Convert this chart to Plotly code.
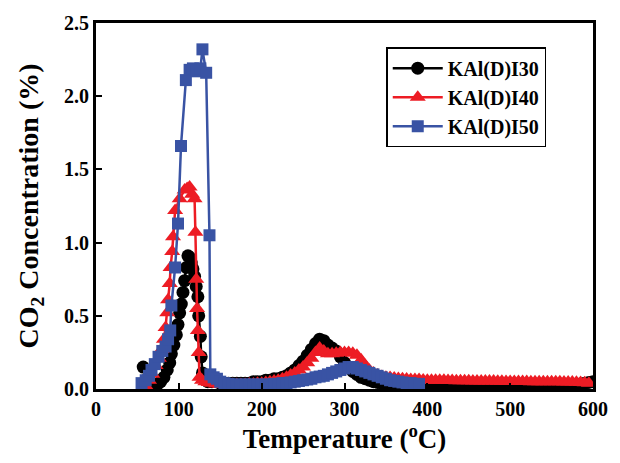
import plotly.graph_objects as go

# ---------------- data ----------------
t_i30 = [57, 62, 66, 70, 74, 78, 82, 86, 89, 91, 94, 97, 99, 101, 103, 105, 107, 109, 111,
         113, 115, 117, 119, 121, 123, 124, 126, 127, 128.5, 131, 135, 140,
         145, 150, 155, 160, 165, 170, 175, 180, 185, 190, 195, 200, 205, 210, 215, 220,
         225, 230, 235, 240, 245, 250, 255, 260, 265, 270, 275, 280, 285, 290, 295, 300,
         305, 310, 315, 320, 325, 330, 335, 340, 345, 350, 355, 360, 365, 370, 375, 380,
         385, 390, 395, 400, 405, 410, 415, 420, 425, 430, 435, 440, 445, 450, 455, 460,
         465, 470, 475, 480, 485, 490, 495, 500, 505, 510, 515, 520, 525, 530, 535, 540,
         545, 550, 555, 560, 565, 570, 575, 580, 585, 590, 595, 600]
c_i30 = [0.15, 0.07, 0.03, 0.02, 0.03, 0.05, 0.08, 0.13, 0.18, 0.24, 0.30, 0.37, 0.44, 0.52,
         0.58, 0.66, 0.74, 0.83, 0.91, 0.90, 0.86, 0.82, 0.77, 0.70, 0.63, 0.50, 0.36, 0.22,
         0.11, 0.07, 0.05, 0.05,
         0.05, 0.04, 0.04, 0.04, 0.04, 0.04, 0.04, 0.04, 0.04, 0.05, 0.05, 0.05, 0.06, 0.06,
         0.07, 0.07, 0.08, 0.09, 0.11, 0.13, 0.16, 0.19, 0.23, 0.27, 0.31, 0.34, 0.33, 0.30,
         0.28, 0.26, 0.22, 0.18, 0.15, 0.12, 0.10, 0.08, 0.07, 0.06, 0.05, 0.045, 0.04, 0.04,
         0.035, 0.035, 0.03, 0.03, 0.03, 0.03, 0.025, 0.025, 0.02, 0.02, 0.02, 0.02, 0.02,
         0.02, 0.015, 0.015, 0.015, 0.015, 0.015, 0.015, 0.015, 0.015, 0.015, 0.015, 0.015,
         0.015, 0.015, 0.015, 0.015, 0.015, 0.015, 0.015, 0.015, 0.015, 0.015, 0.015, 0.015,
         0.02, 0.02, 0.02, 0.02, 0.02, 0.02, 0.025, 0.025, 0.03, 0.035, 0.04, 0.045, 0.05]

t_i40 = [60, 64, 68, 72, 76, 79, 82, 84, 86, 87, 89, 90, 92, 93, 95.5, 101, 107, 110, 113,
         116, 119, 120, 121, 122, 123, 124, 125, 128, 132, 136, 140,
         145, 150, 155, 160, 165, 170, 175, 180, 185, 190, 195, 200, 205, 210, 215, 220,
         225, 230, 235, 240, 245, 250, 255, 260, 265, 270, 275, 280, 285, 290, 295, 300,
         305, 310, 315, 320, 325, 330, 335, 340, 345, 350, 355, 360, 365, 370, 375, 380,
         385, 390, 395, 400, 405, 410, 415, 420, 425, 430, 435, 440, 445, 450, 455, 460,
         465, 470, 475, 480, 485, 490, 495, 500, 505, 510, 515, 520, 525, 530, 535, 540,
         545, 550, 555, 560, 565, 570, 575, 580, 585, 590, 595, 600]
c_i40 = [0.02, 0.06, 0.10, 0.16, 0.21, 0.27, 0.34, 0.42, 0.52, 0.61, 0.72, 0.83, 0.94, 1.04,
         1.22, 1.30, 1.36, 1.37, 1.38, 1.33, 1.30, 1.07, 0.75, 0.55, 0.40, 0.25, 0.08, 0.06,
         0.05, 0.045, 0.04,
         0.035, 0.03, 0.03, 0.03, 0.03, 0.03, 0.03, 0.03, 0.035, 0.035, 0.04, 0.04, 0.045,
         0.05, 0.055, 0.06, 0.07, 0.08, 0.095, 0.11, 0.13, 0.15, 0.18, 0.21, 0.25, 0.28, 0.26,
         0.24, 0.24, 0.245, 0.25, 0.25, 0.25, 0.245, 0.23, 0.20, 0.16, 0.13, 0.11, 0.095,
         0.085, 0.08, 0.078, 0.075, 0.072, 0.07, 0.068, 0.065, 0.065, 0.065, 0.062, 0.06,
         0.06, 0.06, 0.06, 0.06, 0.058, 0.058, 0.057, 0.057, 0.056, 0.056, 0.055, 0.055,
         0.055, 0.055, 0.054, 0.054, 0.053, 0.053, 0.052, 0.052, 0.052, 0.052, 0.051, 0.051,
         0.05, 0.05, 0.05, 0.05, 0.05, 0.05, 0.049, 0.049, 0.048, 0.048, 0.047, 0.046,
         0.045, 0.043, 0.04]

t_i50 = [55, 60, 64, 67, 71, 75.5, 80, 84, 87, 89.6, 91, 95.5, 99, 102.6, 108.5, 113, 117,
         121.5, 126, 128.5, 133, 137, 138, 142, 146,
         150, 155, 160, 165, 170, 175, 180, 185, 190, 195, 200, 205, 210, 215, 220, 225, 230,
         235, 240, 245, 250, 255, 260, 265, 270, 275, 280, 285, 290, 295, 300, 305, 310, 315,
         320, 325, 330, 335, 340, 345, 350, 355, 360, 365, 370, 375, 380, 385, 390]
c_i50 = [0.04, 0.06, 0.09, 0.13, 0.17, 0.22, 0.26, 0.29, 0.34, 0.40, 0.57, 0.83, 1.13, 1.66,
         2.11, 2.18, 2.19, 2.17, 2.19, 2.32, 2.16, 1.05, 0.10, 0.08, 0.07,
         0.05, 0.04, 0.035, 0.03, 0.03, 0.03, 0.03, 0.03, 0.03, 0.03, 0.03, 0.03, 0.03, 0.035,
         0.035, 0.04, 0.04, 0.045, 0.05, 0.055, 0.06, 0.065, 0.07, 0.08, 0.085, 0.09, 0.10,
         0.11, 0.12, 0.13, 0.14, 0.15, 0.15, 0.14, 0.13, 0.12, 0.11, 0.10, 0.09, 0.08, 0.07,
         0.06, 0.055, 0.05, 0.045, 0.04, 0.04, 0.035, 0.035]

names = ["KAl(D)I30", "KAl(D)I40", "KAl(D)I50"]
x_ticks = [0, 100, 200, 300, 400, 500, 600]
y_ticks = [0.0, 0.5, 1.0, 1.5, 2.0, 2.5]

# ---------------- styles ----------------
FONT = "Liberation Serif, Times New Roman, serif"
BLACK = "#000000"
RED = "#ED1C24"
BLUE = "#3953A4"

fig = go.Figure()
series = [
    (t_i30, c_i30, names[0], BLACK, "circle", 13),
    (t_i40, c_i40, names[1], RED, "triangle-up", 14),
    (t_i50, c_i50, names[2], BLUE, "square", 12),
]
for t, c, n, col, sym, sz in series:
    fig.add_trace(go.Scatter(
        x=t, y=c, name=n, mode="lines+markers",
        line=dict(color=col, width=2.5),
        marker=dict(symbol=sym, size=sz, color=col, line=dict(width=0)),
    ))

axis_common = dict(
    showline=True, linecolor="black", linewidth=3, mirror=True,
    ticks="inside", ticklen=6, tickwidth=2, tickcolor="black",
    showgrid=False, zeroline=False,
    tickfont=dict(family=FONT, size=20, color="black", weight="bold"),
)

fig.update_xaxes(
    range=[0, 600], tickvals=x_ticks,
    title=dict(text="Temperature (<sup>o</sup>C)",
               font=dict(family=FONT, size=27, color="black", weight="bold"),
               standoff=8),
    **axis_common,
)
fig.update_yaxes(
    range=[0, 2.5], tickvals=y_ticks, tickformat=".1f",
    title=dict(text="CO<sub>2</sub> Concentration (%)",
               font=dict(family=FONT, size=28, color="black", weight="bold"),
               standoff=18),
    **axis_common,
)

fig.update_layout(
    width=620, height=463,
    margin=dict(l=96, r=15, t=23, b=74),
    paper_bgcolor="white", plot_bgcolor="white",
    showlegend=True,
    legend=dict(
        x=0.584, y=0.934, xanchor="left", yanchor="top",
        bgcolor="white", bordercolor="black", borderwidth=1.5,
        font=dict(family=FONT, size=20, color="black", weight="bold"),
        itemwidth=50, tracegroupgap=0,
    ),
)

fig.write_html("out.html")
